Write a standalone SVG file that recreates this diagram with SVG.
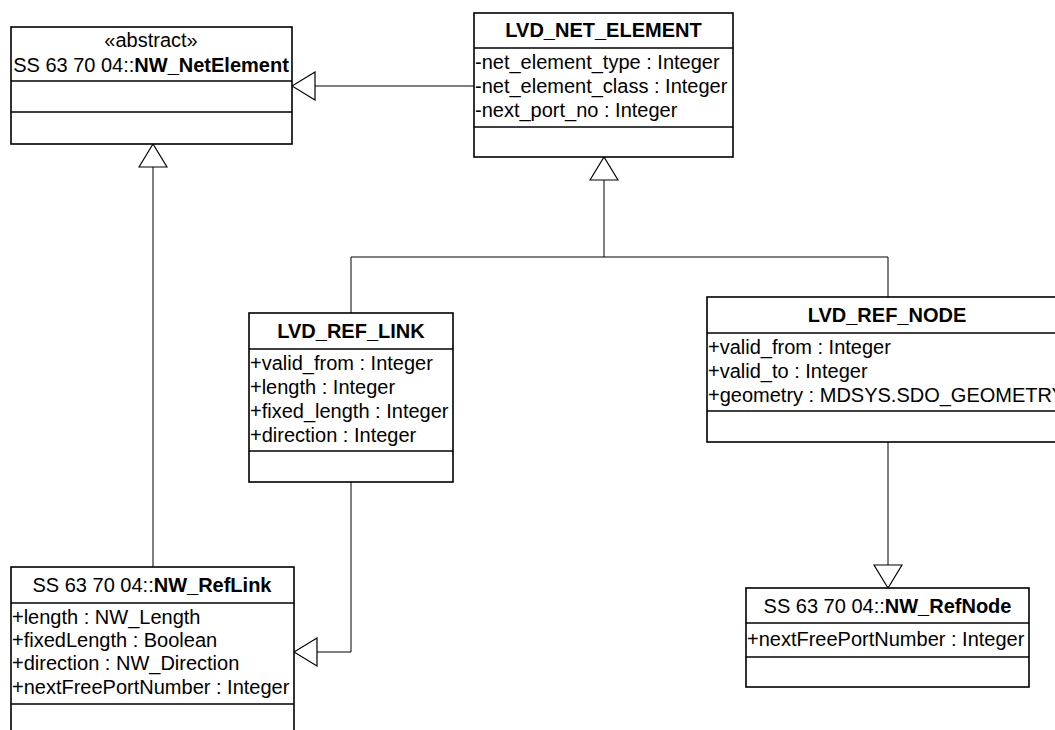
<svg xmlns="http://www.w3.org/2000/svg" width="1055" height="730" viewBox="0 0 1055 730">
<style>
.box{fill:#fff;stroke:#000;stroke-width:1.6}
.div{stroke:#000;stroke-width:1.6}
.t{font-family:"Liberation Sans",Arial,sans-serif;font-size:20px;fill:#000}
.c{text-anchor:middle}
.b{font-weight:bold}
.con{fill:none;stroke:#000;stroke-width:1}
</style>
<defs>
<marker id="gen" markerUnits="userSpaceOnUse" viewBox="-1 -1 25 30" refX="23" refY="14" markerWidth="25" markerHeight="30" orient="auto">
<path d="M0,0 L23,14 L0,28 Z" fill="#fff" stroke="#000" stroke-width="1.2"/>
</marker>
</defs>
<g id="connectors">
<path class="con" d="M474,86 L292,86" marker-end="url(#gen)"/>
<path class="con" d="M153,567 L153,144" marker-end="url(#gen)"/>
<path class="con" d="M351,313 L351,257 L604,257 L604,157" marker-end="url(#gen)"/>
<path class="con" d="M888,297 L888,257 L604,257"/>
<path class="con" d="M351,482 L351,652 L294,652" marker-end="url(#gen)"/>
<path class="con" d="M888,442 L888,588" marker-end="url(#gen)"/>
</g>
<g id="NW_NetElement">
<rect class="box" x="11" y="27" width="281" height="117"/>
<line class="div" x1="11" y1="81" x2="292" y2="81"/>
<line class="div" x1="11" y1="112" x2="292" y2="112"/>
<text class="t c" x="151" y="47">«abstract»</text>
<text class="t c" x="151" y="72">SS 63 70 04::<tspan class="b">NW_NetElement</tspan></text>
</g>
<g id="LVD_NET_ELEMENT">
<rect class="box" x="474" y="13" width="259" height="144"/>
<line class="div" x1="474" y1="48" x2="733" y2="48"/>
<line class="div" x1="474" y1="127" x2="733" y2="127"/>
<text class="t c b" x="603.5" y="37">LVD_NET_ELEMENT</text>
<text class="t" x="475" y="69">-net_element_type : Integer</text>
<text class="t" x="475" y="93">-net_element_class : Integer</text>
<text class="t" x="475" y="117">-next_port_no : Integer</text>
</g>
<g id="LVD_REF_LINK">
<rect class="box" x="249" y="313" width="204" height="169"/>
<line class="div" x1="249" y1="349" x2="453" y2="349"/>
<line class="div" x1="249" y1="451" x2="453" y2="451"/>
<text class="t c b" x="351" y="338">LVD_REF_LINK</text>
<text class="t" x="250" y="370">+valid_from : Integer</text>
<text class="t" x="250" y="394">+length : Integer</text>
<text class="t" x="250" y="418">+fixed_length : Integer</text>
<text class="t" x="250" y="442">+direction : Integer</text>
</g>
<g id="LVD_REF_NODE">
<rect class="box" x="707" y="297" width="360" height="145"/>
<line class="div" x1="707" y1="333" x2="1067" y2="333"/>
<line class="div" x1="707" y1="411" x2="1067" y2="411"/>
<text class="t c b" x="887" y="322">LVD_REF_NODE</text>
<text class="t" x="708" y="354">+valid_from : Integer</text>
<text class="t" x="708" y="378">+valid_to : Integer</text>
<text class="t" x="708" y="402">+geometry : MDSYS.SDO_GEOMETRY</text>
</g>
<g id="NW_RefLink">
<rect class="box" x="11" y="567" width="283" height="180"/>
<line class="div" x1="11" y1="603" x2="294" y2="603"/>
<line class="div" x1="11" y1="704" x2="294" y2="704"/>
<text class="t c" x="152" y="592">SS 63 70 04::<tspan class="b">NW_RefLink</tspan></text>
<text class="t" x="12" y="624">+length : NW_Length</text>
<text class="t" x="12" y="647">+fixedLength : Boolean</text>
<text class="t" x="12" y="670">+direction : NW_Direction</text>
<text class="t" x="12" y="694">+nextFreePortNumber : Integer</text>
</g>
<g id="NW_RefNode">
<rect class="box" x="746" y="588" width="283" height="99"/>
<line class="div" x1="746" y1="623" x2="1029" y2="623"/>
<line class="div" x1="746" y1="657" x2="1029" y2="657"/>
<text class="t c" x="887.5" y="613">SS 63 70 04::<tspan class="b">NW_RefNode</tspan></text>
<text class="t" x="747" y="646">+nextFreePortNumber : Integer</text>
</g>
</svg>
